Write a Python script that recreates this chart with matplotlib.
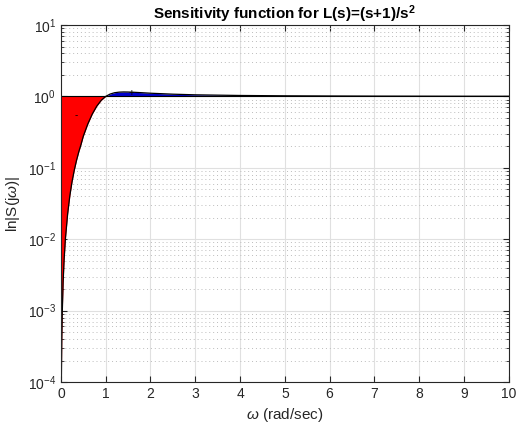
import numpy as np
import matplotlib.pyplot as plt
from matplotlib.ticker import MultipleLocator, LogLocator, NullFormatter, NullLocator

plt.rcParams['font.family'] = ['Liberation Sans', 'DejaVu Sans']
plt.rcParams['mathtext.fontset'] = 'custom'
plt.rcParams['mathtext.it'] = 'Liberation Sans:italic'
plt.rcParams['mathtext.rm'] = 'Liberation Sans'
plt.rcParams['mathtext.bf'] = 'Liberation Sans:bold'

omega = [0.002, 0.005, 0.01, 0.02, 0.03, 0.05, 0.07, 0.1, 0.15, 0.2, 0.25, 0.3, 0.35,
         0.4, 0.45, 0.5, 0.6, 0.7, 0.8, 0.9, 1.0, 1.1, 1.2, 1.3, 1.4, 1.5,
         1.6, 1.8, 2.0, 2.5, 3.0, 4.0, 5.0, 6.0, 7.0, 8.0, 9.0, 10.0]
mag_S = [4.0e-6, 2.5e-5, 1.0e-4, 4.0e-4, 9.0e-4, 2.5e-3, 4.9e-3, 0.0100, 0.0224, 0.0408,
         0.0645, 0.0935, 0.128, 0.168, 0.213, 0.277, 0.410, 0.566, 0.730, 0.881,
         1.000, 1.080, 1.127, 1.148, 1.155, 1.152, 1.146, 1.128, 1.109, 1.075,
         1.053, 1.031, 1.020, 1.014, 1.010, 1.008, 1.006, 1.005]

w = np.array(omega)
s = np.array(mag_S)

fig = plt.figure(figsize=(5.16, 4.24), dpi=100)
ax = fig.add_axes([0.118, 0.099, 0.868, 0.842])

ax.fill_between(w, s, 1, where=s <= 1, interpolate=True, color='red', linewidth=0)
ax.fill_between(w, s, 1, where=s >= 1, interpolate=True, color='#0000cc', linewidth=0)
ax.plot(w, s, color='black', linewidth=0.9)
ax.axhline(1, color='black', linewidth=0.8)
ax.text(0.35, 0.54, '-', ha='center', va='center', fontsize=7)
ax.text(1.58, 1.13, '+', ha='center', va='center', fontsize=7)

ax.set_yscale('log')
ax.set_xlim(0, 10)
ax.set_ylim(1e-4, 10)
ax.xaxis.set_major_locator(MultipleLocator(1))
ax.xaxis.set_minor_locator(NullLocator())
ax.yaxis.set_major_locator(LogLocator(base=10, numticks=10))
ax.yaxis.set_minor_locator(LogLocator(base=10, subs=np.arange(2, 10), numticks=20))
ax.yaxis.set_minor_formatter(NullFormatter())

ax.grid(True, which='major', color='#e0e0e0', linewidth=0.8)
ax.grid(True, which='minor', axis='y', color='#bcbcbc', linestyle=(0, (1, 3)),
        linewidth=0.7)
ax.set_axisbelow(True)
ax.tick_params(which='both', direction='in', top=True, right=True, labelsize=10,
               colors='#262626')
ax.tick_params(which='major', length=4)
ax.tick_params(which='minor', length=2)
for sp in ax.spines.values():
    sp.set_color('#262626')
    sp.set_linewidth(0.8)

ax.set_title(r'Sensitivity function for L(s)=(s+1)/s$^\mathbf{2}$', fontsize=11,
             fontweight='bold', pad=3)
ax.set_xlabel(r'$\omega$ (rad/sec)', fontsize=11, color='#262626')
ax.set_ylabel(r'ln|S(j$\omega$)|', fontsize=11, color='#262626')

fig.savefig('out.png', dpi=100)
